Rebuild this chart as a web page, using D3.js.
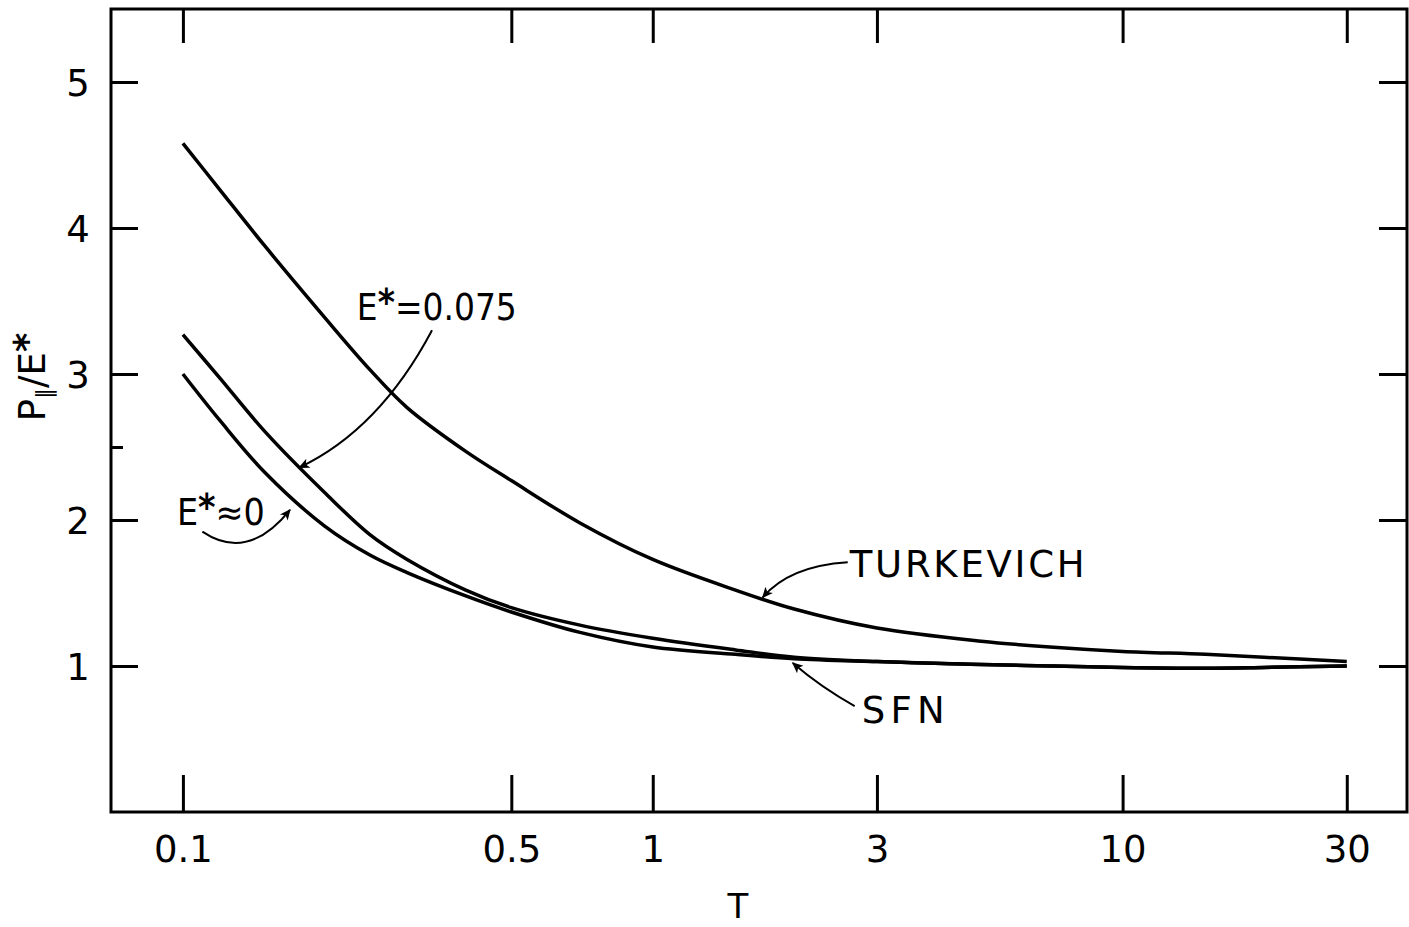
<!DOCTYPE html>
<html>
<head>
<meta charset="utf-8">
<script src="https://cdn.jsdelivr.net/npm/d3@7"></script>
<style>
  body { margin: 0; background: #fff; }
  svg { display: block; }
  text { font-family: 'DejaVu Sans', sans-serif; fill: #000; }
</style>
</head>
<body>
<svg id="chart" width="1409" height="927"></svg>
<script>
// values
const temps = [0.1, 0.12, 0.15, 0.2, 0.25, 0.3, 0.4, 0.5, 0.7, 1, 1.5, 2, 3, 5, 7, 10, 15, 20, 30];
const turkevich = [4.58, 4.26, 3.87, 3.39, 3.03, 2.77, 2.47, 2.27, 1.98, 1.73, 1.52, 1.39, 1.26, 1.17, 1.13, 1.10, 1.08, 1.06, 1.03];
const sfnE075 = [3.27, 2.97, 2.60, 2.19, 1.90, 1.73, 1.52, 1.40, 1.28, 1.19, 1.11, 1.06, 1.03, 1.01, 1.00, 0.99, 0.985, 0.99, 1.00];
const sfnE0 = [3.00, 2.68, 2.32, 1.96, 1.76, 1.64, 1.48, 1.37, 1.23, 1.13, 1.08, 1.05, 1.03, 1.01, 1.00, 0.99, 0.985, 0.99, 1.00];

const xTicks = [0.1, 0.5, 1, 3, 10, 30];
const xTickLabels = ['0.1', '0.5', '1', '3', '10', '30'];
const yTicks = [1, 2, 3, 4, 5];
const yMinorTicks = [2.5];

// annotation anchors in data units (T, P/E*)
const arrows = [
  { from: [0.339, 3.30], ctrl: [0.262, 2.62], to: [0.177, 2.36] },
  { from: [0.110, 1.92], ctrl: [0.1375, 1.71], to: [0.169, 2.07] },
  { from: [2.60, 1.71], ctrl: [1.957, 1.685], to: [1.714, 1.47] },
  { from: [2.69, 0.726], ctrl: [2.29, 0.849], to: [1.986, 1.02] }
];

const svg = d3.select('#chart');
const plotL = 111, plotR = 1407, plotT = 9, plotB = 812;

const x = d3.scaleLog().domain([0.0703, 40.3]).range([plotL, plotR]);
const y = d3.scaleLinear().domain([0, 5.5]).range([plotB, plotT]);

const tickStyle = g => {
  g.select('.domain').remove();
  g.selectAll('.tick line').attr('stroke', '#000').attr('stroke-width', 3);
  g.selectAll('text').style('font-family', "'DejaVu Sans', sans-serif").attr('fill', '#000');
};

// frame
svg.append('rect')
  .attr('x', plotL).attr('y', plotT)
  .attr('width', plotR - plotL).attr('height', plotB - plotT)
  .attr('fill', 'none').attr('stroke', '#000').attr('stroke-width', 3);

// bottom axis with labels
svg.append('g')
  .attr('transform', `translate(0,${plotB})`)
  .call(d3.axisBottom(x).tickValues(xTicks).tickSize(-37)
    .tickFormat((d, i) => xTickLabels[i]))
  .call(tickStyle)
  .call(g => g.selectAll('text')
    .attr('y', 50).attr('dy', 0)
    .style('font-size', '37px'));

// top axis
svg.append('g')
  .attr('transform', `translate(0,${plotT})`)
  .call(d3.axisTop(x).tickValues(xTicks).tickSize(-34).tickFormat(''))
  .call(tickStyle);

// left axis
svg.append('g')
  .attr('transform', `translate(${plotL},0)`)
  .call(d3.axisLeft(y).tickValues(yTicks).tickSize(-27).tickFormat(d3.format('d')))
  .call(tickStyle)
  .call(g => g.selectAll('text')
    .attr('x', -33).attr('dy', '0.36em')
    .attr('text-anchor', 'middle')
    .style('font-size', '37px'));

svg.append('g')
  .attr('transform', `translate(${plotL},0)`)
  .call(d3.axisLeft(y).tickValues(yMinorTicks).tickSize(-12).tickFormat(''))
  .call(tickStyle);

// right axis
svg.append('g')
  .attr('transform', `translate(${plotR},0)`)
  .call(d3.axisRight(y).tickValues(yTicks).tickSize(-28).tickFormat(''))
  .call(tickStyle);

// curves
const line = d3.line()
  .x(d => x(d[0]))
  .y(d => y(d[1]))
  .curve(d3.curveCatmullRom.alpha(0.5));

[turkevich, sfnE075, sfnE0].forEach(series => {
  svg.append('path')
    .datum(temps.map((t, i) => [t, series[i]]))
    .attr('d', line)
    .attr('fill', 'none')
    .attr('stroke', '#000')
    .attr('stroke-width', 3.5)
    .attr('stroke-linejoin', 'round');
});

// arrows
svg.append('defs').append('marker')
  .attr('id', 'head')
  .attr('viewBox', '0 0 10 10')
  .attr('refX', 9).attr('refY', 5)
  .attr('markerWidth', 16).attr('markerHeight', 11)
  .attr('markerUnits', 'userSpaceOnUse')
  .attr('orient', 'auto')
  .append('path')
  .attr('d', 'M0,0.5 L10,5 L0,9.5 L2.5,5 z')
  .attr('fill', '#000');

arrows.forEach(a => {
  const p = d3.path();
  p.moveTo(x(a.from[0]), y(a.from[1]));
  p.quadraticCurveTo(x(a.ctrl[0]), y(a.ctrl[1]), x(a.to[0]), y(a.to[1]));
  svg.append('path')
    .attr('d', p.toString())
    .attr('fill', 'none')
    .attr('stroke', '#000')
    .attr('stroke-width', 2)
    .attr('marker-end', 'url(#head)');
});

// annotation labels
const note = (t, v, width) => svg.append('text')
  .attr('x', x(t)).attr('y', y(v))
  .attr('textLength', width)
  .attr('lengthAdjust', 'spacingAndGlyphs')
  .style('font-size', '37px');

const n1 = note(0.2345, 3.37, 160);
n1.append('tspan').text('E');
n1.append('tspan').attr('dy', -5).style('font-weight', 'bold').text('*');
n1.append('tspan').attr('dy', 5).text('=0.075');

const n2 = note(0.0971, 1.966, 88);
n2.append('tspan').text('E');
n2.append('tspan').attr('dy', -5).style('font-weight', 'bold').text('*');
n2.append('tspan').attr('dy', 5).text('≈0');

note(2.625, 1.61, 235).attr('lengthAdjust', 'spacing').text('TURKEVICH');
note(2.785, 0.61, 83).attr('lengthAdjust', 'spacing').text('SFN');

// axis titles
svg.append('text')
  .attr('x', 738).attr('y', 918)
  .attr('text-anchor', 'middle')
  .style('font-size', '34px')
  .text('T');

const yl = svg.append('text')
  .attr('transform', 'translate(45,377) rotate(-90)')
  .attr('text-anchor', 'middle')
  .style('font-size', '37px');
yl.append('tspan').text('P');
yl.append('tspan').attr('dy', 7).style('font-size', '22px').style('font-style', 'italic').text('∥');
yl.append('tspan').attr('dy', -7).text('/E');
yl.append('tspan').attr('dy', -5).style('font-weight', 'bold').text('*');
</script>
</body>
</html>
